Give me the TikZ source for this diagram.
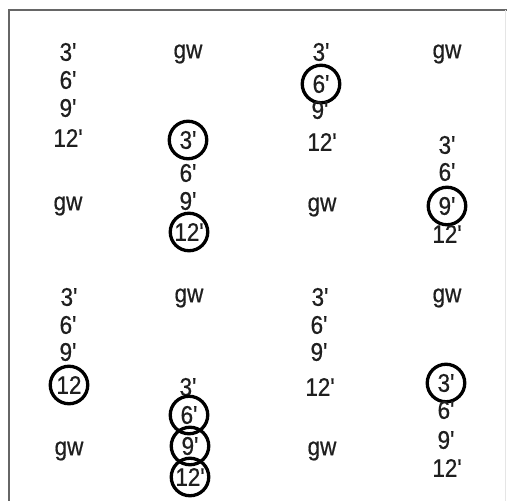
\documentclass[tikz,border=0pt]{standalone}
\usepackage{fontspec}
\setmainfont{Liberation Sans}[FakeStretch=0.88,FakeBold=0.6,Ligatures=TeXOff]
\begin{document}
\begin{tikzpicture}[x=1pt,y=-1pt,
  lbl/.style={inner sep=0pt,font=\fontsize{25.5}{26}\selectfont,text=black!88},
  circ/.style={lbl,draw=black,circle,line width=3.3pt,minimum size=37.5pt},
  frame/.style={draw=black!60,line width=1.6pt}]
\useasboundingbox (0,0) rectangle (507,501);
\fill[white] (0,0) rectangle (507,501);
\coordinate (fa) at (9,501);
\coordinate (fb) at (9,10);
\coordinate (fc) at (507,10);
\draw[frame] (fa) -- (fb) -- (fc);
\coordinate (ra) at (505.5,10);
\coordinate (rb) at (505.5,501);
\draw[black!10,line width=0.8pt] (ra) -- (rb);
% top-left block, column 1
\node[lbl] (a1) at (68,52) {3'};
\node[lbl] (a2) at (68,80) {6'};
\node[lbl] (a3) at (68,108) {9'};
\node[lbl] (a4) at (68,138) {12'};
\node[lbl] (a5) at (68,206) {gw};
% column 2
\node[lbl] (b1) at (188,54) {gw};
\node[circ] (b2) at (188,140) {3'};
\node[lbl] (b3) at (188,173) {6'};
\node[lbl] (b4) at (188,201) {9'};
\node[circ] (b5) at (189,232) {12'};
% column 3
\node[lbl] (c1) at (321,52) {3'};
\node[circ] (c2) at (321,84) {6'};
\node[lbl] (c3) at (320,110) {9'};
\node[lbl] (c4) at (322,142) {12'};
\node[lbl] (c5) at (322,207) {gw};
% column 4
\node[lbl] (d1) at (447,54) {gw};
\node[lbl] (d2) at (447,145) {3'};
\node[lbl] (d3) at (447,172) {6'};
\node[circ] (d4) at (447,206) {9'};
\node[lbl] (d5) at (447,234) {12'};
% bottom block, column 1
\node[lbl] (e1) at (69,297) {3'};
\node[lbl] (e2) at (68,325) {6'};
\node[lbl] (e3) at (68,352) {9'};
\node[circ] (e4) at (69,385) {12};
\node[lbl] (e5) at (69,451) {gw};
% column 2
\node[lbl] (f1) at (189,298) {gw};
\node[lbl] (f2) at (188,387) {3'};
\node[circ] (f3) at (189,415) {6'};
\node[circ] (f4) at (190,446) {9'};
\node[circ] (f5) at (190,477) {12'};
% column 3
\node[lbl] (g1) at (320,297) {3'};
\node[lbl] (g2) at (319,325) {6'};
\node[lbl] (g3) at (319,352) {9'};
\node[lbl] (g4) at (320,387) {12'};
\node[lbl] (g5) at (322,451) {gw};
% column 4
\node[lbl] (h1) at (447,298) {gw};
\node[circ] (h2) at (446,383) {3'};
\node[lbl] (h3) at (446,410) {6'};
\node[lbl] (h4) at (446,440) {9'};
\node[lbl] (h5) at (447,468) {12'};
\end{tikzpicture}
\end{document}
